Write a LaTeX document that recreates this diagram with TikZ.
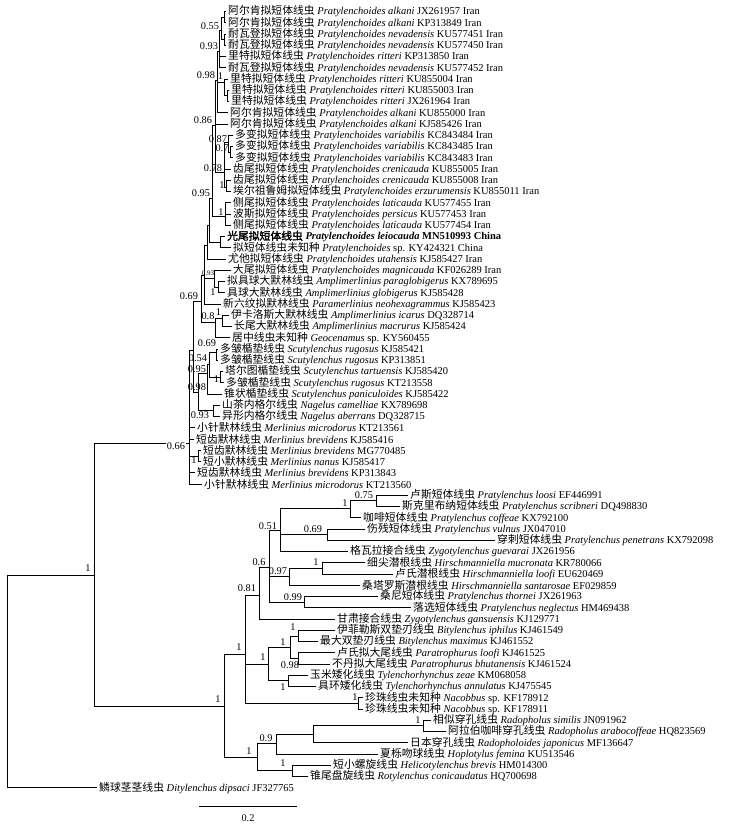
\documentclass[tikz,border=0pt]{standalone}
\usepackage{fontspec}
\setmainfont{Liberation Serif}
\newfontfamily\cjk[Scale=1.03,AutoFakeBold=2]{Noto Sans CJK SC}
\newcommand{\leafnode}[5]{\node[leaf] (L#1) at (#2,{11.5+(#1-1)*11.25}) {{\cjk #3} \textit{#4} #5};}
\newcommand{\inode}[4]{\coordinate (#1) at (#2,#3); \foreach \c in {#4} \draw[br] (#1) |- (\c);}
\begin{document}
\begin{tikzpicture}[x=1pt,y=-1pt,
  leaf/.style={anchor=west,inner xsep=2pt,inner ysep=0pt,font=\fontsize{10.5}{12}\selectfont},
  bs/.style={inner sep=0pt,font=\fontsize{10.3}{12}\selectfont},
  bss/.style={inner sep=0pt,font=\fontsize{7}{8}\selectfont},
  br/.style={line width=0.9pt,line cap=rect}]
\useasboundingbox (0,0) rectangle (730,825);
% ---- leaves: upper clade
\leafnode{1}{226}{阿尔肯拟短体线虫}{Pratylenchoides alkani}{JX261957 Iran}
\leafnode{2}{226}{阿尔肯拟短体线虫}{Pratylenchoides alkani}{KP313849 Iran}
\leafnode{3}{226}{耐瓦登拟短体线虫}{Pratylenchoides nevadensis}{KU577451 Iran}
\leafnode{4}{226}{耐瓦登拟短体线虫}{Pratylenchoides nevadensis}{KU577450 Iran}
\leafnode{5}{226}{里特拟短体线虫}{Pratylenchoides ritteri}{KP313850 Iran}
\leafnode{6}{226}{耐瓦登拟短体线虫}{Pratylenchoides nevadensis}{KU577452 Iran}
\leafnode{7}{228}{里特拟短体线虫}{Pratylenchoides ritteri}{KU855004 Iran}
\leafnode{8}{229}{里特拟短体线虫}{Pratylenchoides ritteri}{KU855003 Iran}
\leafnode{9}{229}{里特拟短体线虫}{Pratylenchoides ritteri}{JX261964 Iran}
\leafnode{10}{228}{阿尔肯拟短体线虫}{Pratylenchoides alkani}{KU855000 Iran}
\leafnode{11}{228}{阿尔肯拟短体线虫}{Pratylenchoides alkani}{KJ585426 Iran}
\leafnode{12}{233}{多变拟短体线虫}{Pratylenchoides variabilis}{KC843484 Iran}
\leafnode{13}{233}{多变拟短体线虫}{Pratylenchoides variabilis}{KC843485 Iran}
\leafnode{14}{233}{多变拟短体线虫}{Pratylenchoides variabilis}{KC843483 Iran}
\leafnode{15}{231}{齿尾拟短体线虫}{Pratylenchoides crenicauda}{KU855005 Iran}
\leafnode{16}{231}{齿尾拟短体线虫}{Pratylenchoides crenicauda}{KU855008 Iran}
\leafnode{17}{231}{埃尔祖鲁姆拟短体线虫}{Pratylenchoides erzurumensis}{KU855011 Iran}
\leafnode{18}{231}{侧尾拟短体线虫}{Pratylenchoides laticauda}{KU577455 Iran}
\leafnode{19}{231}{波斯拟短体线虫}{Pratylenchoides persicus}{KU577453 Iran}
\leafnode{20}{231}{侧尾拟短体线虫}{Pratylenchoides laticauda}{KU577454 Iran}
\leafnode{21}{225}{\bfseries 光尾拟短体线虫}{\bfseries Pratylenchoides leiocauda}{\textbf{MN510993 China}}
\leafnode{22}{231}{拟短体线虫未知种}{Pratylenchoides}{sp. KY424321 China}
\leafnode{23}{226}{尤他拟短体线虫}{Pratylenchoides utahensis}{KJ585427 Iran}
\leafnode{24}{231}{大尾拟短体线虫}{Pratylenchoides magnicauda}{KF026289 Iran}
\leafnode{25}{225}{拟具球大默林线虫}{Amplimerlinius paraglobigerus}{KX789695}
\leafnode{26}{225}{具球大默林线虫}{Amplimerlinius globigerus}{KJ585428}
\leafnode{27}{221}{新六纹拟默林线虫}{Paramerlinius neohexagrammus}{KJ585423}
\leafnode{28}{229}{伊卡洛斯大默林线虫}{Amplimerlinius icarus}{DQ328714}
\leafnode{29}{232}{长尾大默林线虫}{Amplimerlinius macrurus}{KJ585424}
\leafnode{30}{230}{居中线虫未知种}{Geocenamus}{sp. KY560455}
\leafnode{31}{218}{多皱楯垫线虫}{Scutylenchus rugosus}{KJ585421}
\leafnode{32}{218}{多皱楯垫线虫}{Scutylenchus rugosus}{KP313851}
\leafnode{33}{223}{塔尔图楯垫线虫}{Scutylenchus tartuensis}{KJ585420}
\leafnode{34}{224}{多皱楯垫线虫}{Scutylenchus rugosus}{KT213558}
\leafnode{35}{222}{锥状楯垫线虫}{Scutylenchus paniculoides}{KJ585422}
\leafnode{36}{220}{山茶内格尔线虫}{Nagelus camelliae}{KX789698}
\leafnode{37}{220}{异形内格尔线虫}{Nagelus aberrans}{DQ328715}
\leafnode{38}{195}{小针默林线虫}{Merlinius microdorus}{KT213561}
\leafnode{39}{194}{短齿默林线虫}{Merlinius brevidens}{KJ585416}
\leafnode{40}{201}{短齿默林线虫}{Merlinius brevidens}{MG770485}
\leafnode{41}{201}{短小默林线虫}{Merlinius nanus}{KJ585417}
\leafnode{42}{195}{短齿默林线虫}{Merlinius brevidens}{KP313843}
\leafnode{43}{202}{小针默林线虫}{Merlinius microdorus}{KT213560}
% ---- leaves: lower clade
\leafnode{44}{408}{卢斯短体线虫}{Pratylenchus loosi}{EF446991}
\leafnode{45}{400}{斯克里布纳短体线虫}{Pratylenchus scribneri}{DQ498830}
\leafnode{46}{361}{咖啡短体线虫}{Pratylenchus coffeae}{KX792100}
\leafnode{47}{365}{伤残短体线虫}{Pratylenchus vulnus}{JX047010}
\leafnode{48}{495}{穿刺短体线虫}{Pratylenchus penetrans}{KX792098}
\leafnode{49}{348}{格瓦拉接合线虫}{Zygotylenchus guevarai}{JX261956}
\leafnode{50}{365}{细尖潜根线虫}{Hirschmanniella mucronata}{KR780066}
\leafnode{51}{393}{卢氏潜根线虫}{Hirschmanniella loofi}{EU620469}
\leafnode{52}{360}{桑塔罗斯潜根线虫}{Hirschmanniella santarosae}{EF029859}
\leafnode{53}{378}{桑尼短体线虫}{Pratylenchus thornei}{JX261963}
\leafnode{54}{411}{落选短体线虫}{Pratylenchus neglectus}{HM469438}
\leafnode{55}{335}{甘肃接合线虫}{Zygotylenchus gansuensis}{KJ129771}
\leafnode{56}{335}{伊菲勒斯双垫刃线虫}{Bitylenchus iphilus}{KJ461549}
\leafnode{57}{318}{最大双垫刃线虫}{Bitylenchus maximus}{KJ461552}
\leafnode{58}{335}{卢氏拟大尾线虫}{Paratrophurus loofi}{KJ461525}
\leafnode{59}{330}{不丹拟大尾线虫}{Paratrophurus bhutanensis}{KJ461524}
\leafnode{60}{308}{玉米矮化线虫}{Tylenchorhynchus zeae}{KM068058}
\leafnode{61}{316}{具环矮化线虫}{Tylenchorhynchus annulatus}{KJ475545}
\leafnode{62}{363}{珍珠线虫未知种}{Nacobbus}{sp. KF178912}
\leafnode{63}{363}{珍珠线虫未知种}{Nacobbus}{sp. KF178911}
\leafnode{64}{431}{相似穿孔线虫}{Radopholus similis}{JN091962}
\leafnode{65}{446}{阿拉伯咖啡穿孔线虫}{Radopholus arabocoffeae}{HQ823569}
\leafnode{66}{408}{日本穿孔线虫}{Radopholoides japonicus}{MF136647}
\leafnode{67}{378}{夏栎吻球线虫}{Hoplotylus femina}{KU513546}
\leafnode{68}{331}{短小螺旋线虫}{Helicotylenchus brevis}{HM014300}
\leafnode{69}{308}{锥尾盘旋线虫}{Rotylenchus conicaudatus}{HQ700698}
\leafnode{70}{97}{鳞球茎茎线虫}{Ditylenchus dipsaci}{JF327765}
% ---- internal nodes: upper clade
\inode{n12}{224}{17.1}{L1.west,L2.west}
\inode{n34}{224}{39.6}{L3.west,L4.west}
\inode{nQ1}{221}{30}{n12,n34}
\inode{nQ2}{219}{51}{nQ1,L5.west,L6.west}
\inode{n89}{227}{95.9}{L8.west,L9.west}
\inode{nR}{224}{82}{L7.west,n89}
\inode{nQ3}{217}{80}{nQ2,nR,L10.west}
\inode{nV1}{230}{152}{L13.west,L14.west}
\inode{nV}{228}{142}{L12.west,nV1}
\inode{n1617}{226}{187}{L16.west,L17.west}
\inode{nC}{224}{172}{nV,L15.west,n1617}
\inode{nQ4}{215}{125}{nQ3,L11.west,nC}
\inode{n1820}{225}{216}{L18.west,L19.west,L20.west}
\inode{n95}{212}{198}{nQ4,n1820}
\inode{n2122}{220}{242}{L21.west,L22.west}
\inode{nP1}{209}{225}{n95,n2122}
\inode{nP}{207}{245}{nP1,L23.west}
\inode{n2526}{218}{287}{L25.west,L26.west}
\inode{n93}{214}{278}{L24.west,n2526}
\inode{nD}{204}{275}{nP,n93,L27.west}
\inode{n2829}{222}{318}{L28.west,L29.west}
\inode{nE}{215}{322}{n2829,L30.west}
\inode{nB}{201}{301}{nD,nE}
\inode{nS1}{216}{352}{L31.west,L32.west}
\inode{nS2}{220}{377}{L33.west,L34.west}
\inode{nS3}{209}{364}{nS1,nS2}
\inode{nS4}{207}{373}{nS3,L35.west}
\inode{nN}{213}{410}{L36.west,L37.west}
\inode{nSN}{198}{392}{nS4,nN}
\inode{nUp}{193}{350}{nB,nSN}
\inode{nM1}{198}{456}{L40.west,L41.west}
\inode{n66}{189}{443}{nUp,L38.west,L39.west,nM1,L42.west,L43.west}
% ---- internal nodes: lower clade
\inode{nB1}{376}{500.5}{L44.west,L45.west}
\inode{nB2}{350}{508}{nB1,L46.west}
\inode{nB3}{327}{534}{L47.west,L48.west}
\inode{nB4}{280}{530}{nB2,nB3,L49.west}
\inode{nH1}{322}{568}{L50.west,L51.west}
\inode{nH2}{289}{576}{nH1,L52.west}
\inode{nT}{304}{602}{L53.west,L54.west}
\inode{n06}{269}{567}{nB4,nH2,nT}
\inode{n081}{259}{595}{n06,L55.west}
\inode{nBi}{298}{636}{L56.west,L57.west}
\inode{nPa}{298}{658}{L58.west,L59.west}
\inode{nBP}{290}{647}{nBi,nPa}
\inode{nTy}{288}{680.5}{L60.west,L61.west}
\inode{nBPT}{268}{664}{nBP,nTy}
\inode{nNa}{358}{703}{L62.west,L63.west}
\inode{n1b}{245}{654}{n081,nBPT,nNa}
\inode{nRa}{423}{725.5}{L64.west,L65.west}
\inode{nRR}{313}{734}{nRa,L66.west}
\inode{n09}{276}{743.5}{nRR,L67.west}
\inode{nHR}{292}{770.5}{L68.west,L69.west}
\inode{nLow1}{257}{757}{n09,nHR}
\inode{nLow}{224}{706}{n1b,nLow1}
% ---- root
\inode{nIn}{94}{575}{n66,nLow}
\inode{nRoot}{7}{680}{nIn,L70.west}
% ---- support values
\node[bs] (b01) at (210,26) {0.55};
\node[bs] (b02) at (209,46) {0.93};
\node[bs] (b03) at (206,75) {0.98};
\node[bs] (b04) at (220.5,76.5) {1};
\node[bs] (b05) at (203,120) {0.86};
\node[bs] (b06) at (218,139) {0.87};
\node[bs] (b07) at (222,148) {0.7};
\node[bs] (b08) at (213,168) {0.78};
\node[bs] (b09) at (222,185) {1};
\node[bs] (b10) at (201,193) {0.95};
\node[bs] (b11) at (221,212) {1};
\node[bss] (b12) at (208,273) {0.93};
\node[bs] (b13) at (213,292) {1};
\node[bs] (b14) at (189,296) {0.69};
\node[bs] (b15) at (208,316) {0.8};
\node[bs] (b16) at (218.5,312) {1};
\node[bs] (b17) at (207,343) {0.69};
\node[bs] (b18) at (198,358) {0.54};
\node[bs] (b19) at (197,369) {0.95};
\node[bs] (b20) at (216.5,379) {1};
\node[bs] (b21) at (197,387) {0.98};
\node[bs] (b22) at (200,415) {0.93};
\node[bs] (b23) at (194,460) {1};
\node[bs,fill=white,inner sep=1pt] (b24) at (176,446) {0.66};
\node[bs] (b25) at (364,495) {0.75};
\node[bs] (b26) at (345,503) {1};
\node[bs] (b27) at (313,529) {0.69};
\node[bs] (b28) at (268,526) {0.51};
\node[bs] (b29) at (316,562) {1};
\node[bs] (b30) at (278,571) {0.97};
\node[bs] (b31) at (293,597) {0.99};
\node[bs] (b32) at (259,562) {0.6};
\node[bs] (b33) at (247,588) {0.81};
\node[bs] (b34) at (293,627) {1};
\node[bs] (b35) at (290,665) {0.98};
\node[bs] (b36) at (283,642) {1};
\node[bs] (b37) at (283,687) {1};
\node[bs] (b38) at (263,657) {1};
\node[bs] (b39) at (355,697) {1};
\node[bs] (b40) at (239,647) {1};
\node[bs] (b41) at (418,720) {1};
\node[bs] (b42) at (266,738) {0.9};
\node[bs] (b43) at (283,763) {1};
\node[bs] (b44) at (249,751) {1};
\node[bs] (b45) at (218,699) {1};
\node[bs] (b46) at (88,568) {1};
% ---- scale bar
\coordinate (s1) at (199,806);
\coordinate (s2) at (297,806);
\draw[br] (s1) -- (s2);
\node[bs] (sl) at (248,818) {0.2};
\end{tikzpicture}
\end{document}
